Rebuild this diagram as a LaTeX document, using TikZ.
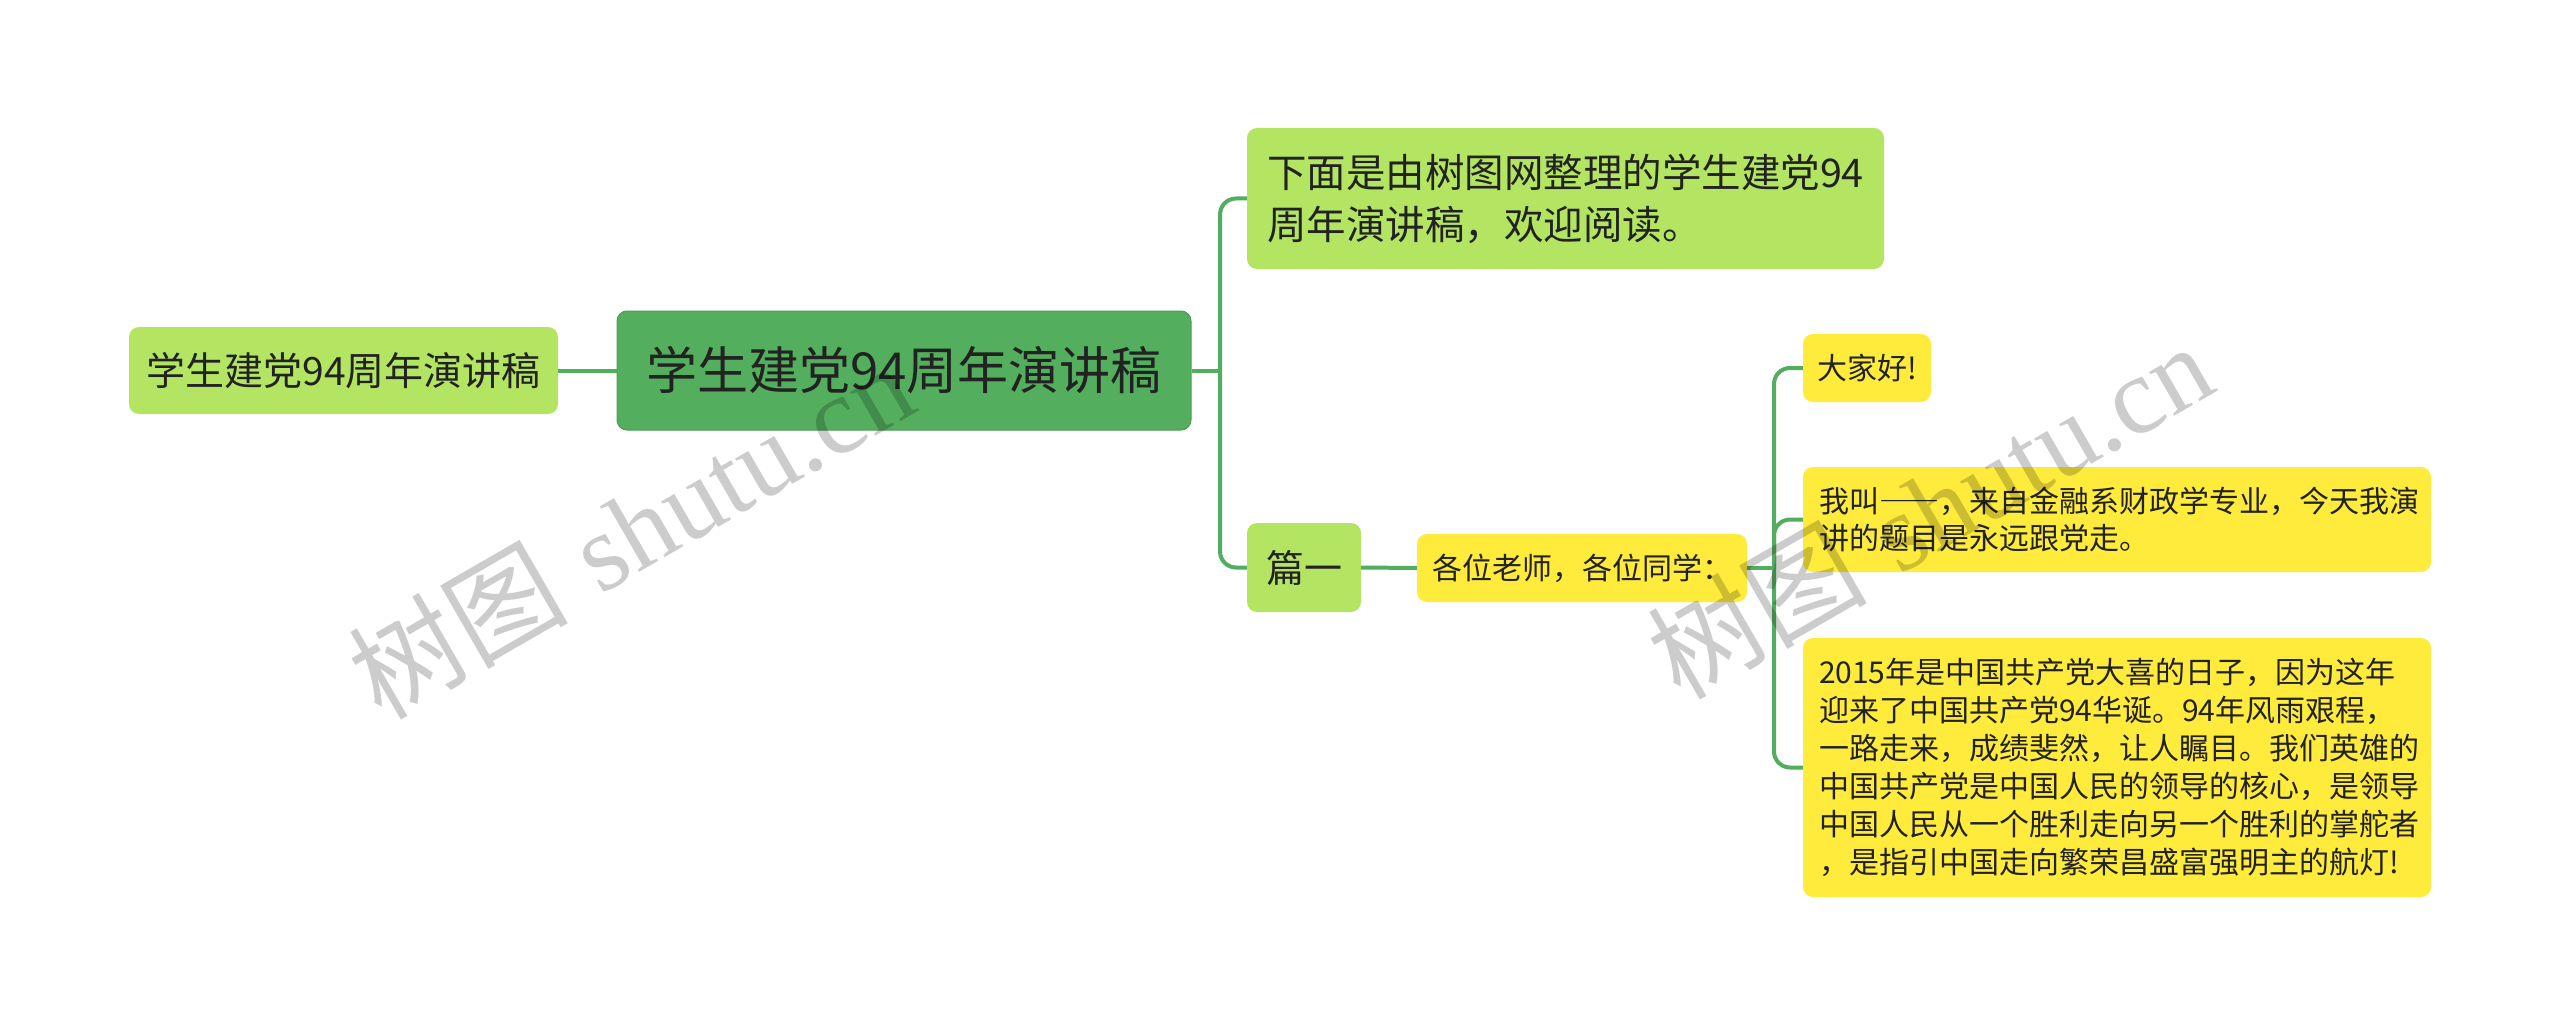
\documentclass[tikz,border=0pt]{standalone}
\usepackage{fontspec}
\newfontfamily\cjk{Noto Sans CJK SC}
\newfontfamily\wmserif{Liberation Serif}
\definecolor{lgreen}{HTML}{B3E563}
\definecolor{dgreen}{HTML}{53AF5E}
\definecolor{yel}{HTML}{FFEB3B}
\definecolor{conncol}{HTML}{53AD5E}
\definecolor{txt}{HTML}{222222}
\newcommand{\fwdash}{{\addfontfeature{RawFeature=+fwid}——}}
\begin{document}
\begin{tikzpicture}[x=1pt,y=-1pt,
  box/.style={rounded corners=10, inner sep=0pt, align=left, text=txt},
  conn/.style={draw=conncol, line width=4pt},
  wm/.style={rotate=30, text=black, opacity=0.2, inner sep=0pt}]
\useasboundingbox[fill=white] (0,0) rectangle (2560,1027);

% nodes
\node[box, fill=lgreen, minimum width=429, minimum height=87,
  font={\cjk\fontsize{39}{47}\selectfont}] (L) at (343.5,370.5) {学生建党94周年演讲稿};
\node[box, fill=dgreen, draw=dgreen!90!black, line width=1pt, minimum width=574, minimum height=119,
  font={\cjk\fontsize{51}{60}\selectfont}] (C) at (904,370.5) {学生建党94周年演讲稿};
\node[box, fill=lgreen, minimum width=637, minimum height=141, text width=597,
  font={\cjk\fontsize{39.5}{52}\selectfont}] (N2) at (1565.5,198.5)
  {下面是由树图网整理的学生建党94\\周年演讲稿，欢迎阅读。};
\node[box, fill=lgreen, minimum width=114, minimum height=89,
  font={\cjk\fontsize{38}{46}\selectfont}] (P) at (1304,567.5) {篇一};
\node[box, fill=yel, minimum width=330, minimum height=68,
  font={\cjk\fontsize{30}{37}\selectfont}] (G) at (1582,568) {各位老师，各位同学：};
\node[box, fill=yel, minimum width=128, minimum height=68,
  font={\cjk\fontsize{30}{37}\selectfont}] (D) at (1867,368) {大家好!};
\node[box, fill=yel, minimum width=628, minimum height=105, text width=596,
  font={\cjk\fontsize{30}{37.5}\selectfont}] (W) at (2117,519.5)
  {我叫\fwdash，来自金融系财政学专业，今天我演\\讲的题目是永远跟党走。};
\node[box, fill=yel, minimum width=628, minimum height=259, text width=596,
  font={\cjk\fontsize{30}{38}\selectfont}] (T) at (2117,767.5)
  {2015年是中国共产党大喜的日子，因为这年\\
   迎来了中国共产党94华诞。94年风雨艰程，\\
   一路走来，成绩斐然，让人瞩目。我们英雄的\\
   中国共产党是中国人民的领导的核心，是领导\\
   中国人民从一个胜利走向另一个胜利的掌舵者\\
   ，是指引中国走向繁荣昌盛富强明主的航灯!};

% connectors
\coordinate (j1) at (1220,370.5);
\coordinate (j2) at (1774,568);
\draw[conn] (L.east) -- (C.west);
\draw[conn] (C.east) -- (j1);
\draw[conn, rounded corners=16] (N2.west) -| (j1) |- (P.west);
\draw[conn] (P.east) -- (G.west);
\draw[conn] (G.east) -- (j2);
\draw[conn, rounded corners=16] (D.west) -| (j2) |- (T.west);
\draw[conn, rounded corners=16] (W.west) -| (j2);

% watermarks
\node[wm, font={\fontsize{110}{120}\selectfont}] (wm1) at (630,530)
  {{\cjk 树图} {\wmserif shutu.cn}};
\node[wm, font={\fontsize{110}{120}\selectfont}] (wm2) at (1929,510)
  {{\cjk 树图} {\wmserif shutu.cn}};
\end{tikzpicture}
\end{document}
